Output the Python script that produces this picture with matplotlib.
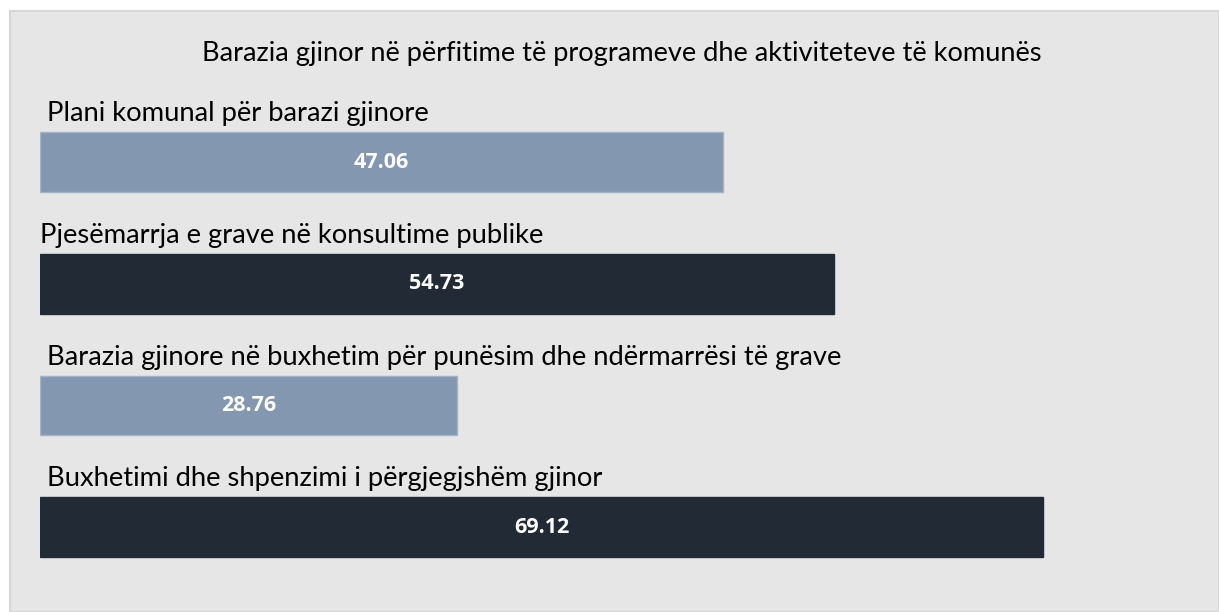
import matplotlib
matplotlib.use("Agg")
from matplotlib import pyplot as plt
from matplotlib.patches import Rectangle

# chart data
categories = [
    "Plani komunal për barazi gjinore",
    "Pjesëmarrja e grave në konsultime publike",
    "Barazia gjinore në buxhetim për punësim dhe ndërmarrësi të grave",
    "Buxhetimi dhe shpenzimi i përgjegjshëm gjinor",
]
values = [47.06, 54.73, 28.76, 69.12]
title = "Barazia gjinor në përfitime të programeve dhe aktiviteteve të komunës"

# styling
bar_colors = ["#8497b0", "#222a35", "#8497b0", "#222a35"]
edge_colors = ["#a3b2c5", "#222a35", "#a3b2c5", "#222a35"]
label_dx = [7, 0, 7, 7]
panel_color = "#e6e6e6"
plt.rcParams["font.family"] = ["Lato", "DejaVu Sans"]

W, H = 1219, 612
fig = plt.figure(figsize=(W / 100, H / 100), dpi=100)
fig.patch.set_facecolor("white")
fig.patches.append(Rectangle((10 / W, 0), (W - 10) / W, (H - 11) / H,
                             transform=fig.transFigure, facecolor=panel_color,
                             edgecolor="#d6d6d6", linewidth=1.5, zorder=-1))

ax = fig.add_axes([40 / W, 1 - 588 / H, 1160.8 / W, (588 - 101.15) / H])
ax.set_facecolor("none")
ax.set_xlim(0, 80)
ax.set_ylim(3.5, -0.5)
ax.axis("off")

h = 0.49
ypos = list(range(len(categories)))
ax.barh(ypos, values, height=h, color=bar_colors, edgecolor=edge_colors, linewidth=1)

for i, (cat, v) in enumerate(zip(categories, values)):
    ax.annotate(cat, xy=(0, i - h / 2), xytext=(label_dx[i], 11),
                textcoords="offset pixels", va="baseline", ha="left",
                fontsize=19.7, color="black")
    ax.text(v / 2, i, f"{v:.2f}", ha="center", va="center", color="white",
            fontsize=15.5, fontweight="bold", family=["Open Sans", "DejaVu Sans"])

fig.text(622 / W, 1 - 61 / H, title, ha="center", va="baseline",
         fontsize=19.6, color="black")

plt.savefig("out.png", dpi=100)
